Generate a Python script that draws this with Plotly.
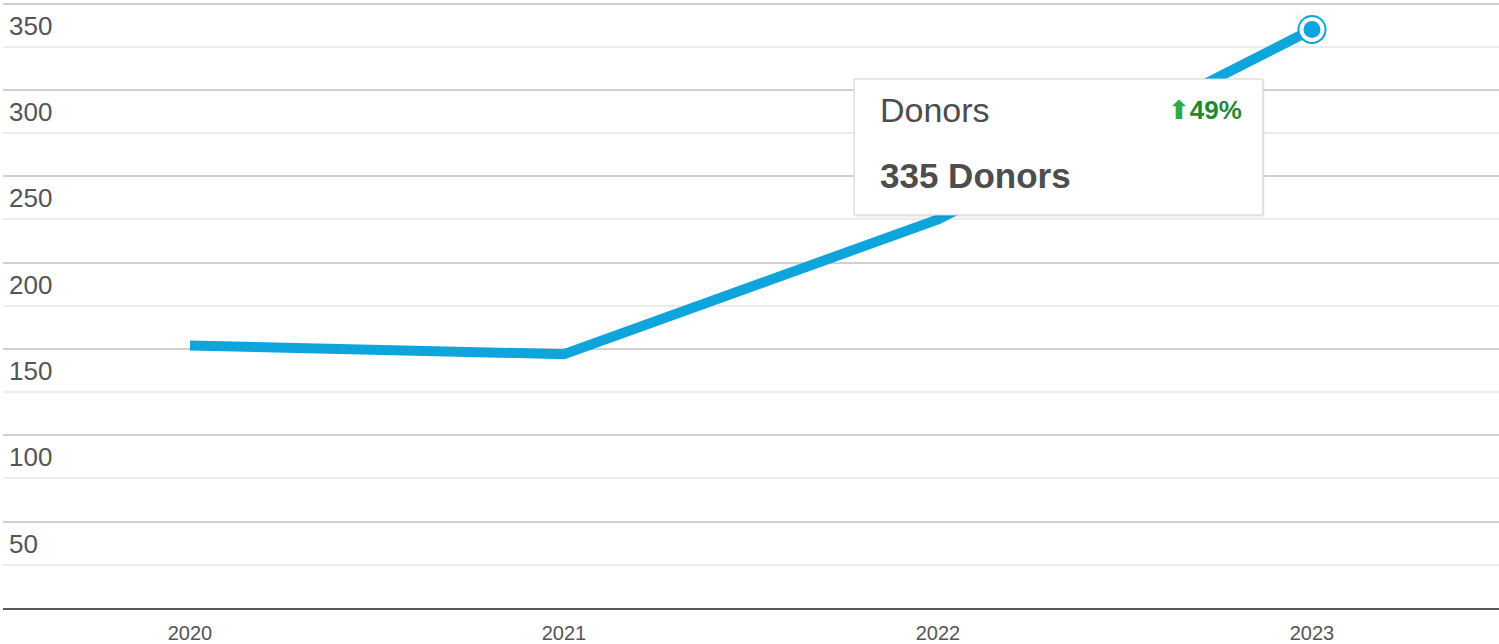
import plotly.graph_objects as go

years = ["2020", "2021", "2022", "2023"]
donors = [152, 147, 225, 335]
y_ticks = [50, 100, 150, 200, 250, 300, 350]
y_minor = [25, 75, 125, 175, 225, 275, 325]
tip_title = "Donors"
tip_change = "49%"
tip_value = "335 Donors"

BLUE = "#0ea5dc"
FONT = "Liberation Sans, Arial, sans-serif"

fig = go.Figure()
fig.add_trace(go.Scatter(x=years, y=donors, mode="lines",
                         line=dict(color=BLUE, width=10), hoverinfo="skip"))
# highlighted last point
fig.add_trace(go.Scatter(x=[years[-1]], y=[donors[-1]], mode="markers",
                         marker=dict(size=27, color="white", line=dict(color=BLUE, width=2)),
                         hoverinfo="skip"))
fig.add_trace(go.Scatter(x=[years[-1]], y=[donors[-1]], mode="markers",
                         marker=dict(size=17, color=BLUE, line=dict(width=0)),
                         hoverinfo="skip"))

fig.update_layout(
    width=1499, height=644,
    margin=dict(l=3, r=0, t=2, b=36),
    paper_bgcolor="white", plot_bgcolor="white",
    showlegend=False,
    font=dict(family=FONT, color="#555555"),
    xaxis=dict(type="category", range=[-0.5, 3.5], showgrid=False,
               showline=True, linecolor="#5a5a5a", linewidth=2,
               ticks="", tickfont=dict(size=20, color="#555555"),
               ticklabelstandoff=6, zeroline=False, fixedrange=True),
    yaxis=dict(range=[0, 350.9], tickvals=y_ticks, ticktext=[str(v) for v in y_ticks],
               showgrid=True, gridcolor="#d0d0d0", gridwidth=2,
               minor=dict(tickvals=y_minor, showgrid=True, gridcolor="#ececec", gridwidth=2),
               ticklabelposition="inside", ticklabelshift=22, ticklabelstandoff=3,
               ticklabeloverflow="allow",
               tickfont=dict(size=26, color="#555555"),
               zeroline=False, showline=False, ticks="", fixedrange=True),
)

# tooltip box (shadow + box)
x0, x1, y0, y1 = 0.5689, 0.8422, 0.6485, 0.873
fig.add_shape(type="rect", xref="paper", yref="paper", x0=x0 + 0.001, x1=x1 + 0.001,
              y0=y0 - 0.004, y1=y1 - 0.004, fillcolor="rgba(0,0,0,0.06)",
              line=dict(width=0), layer="above")
fig.add_shape(type="rect", xref="paper", yref="paper", x0=x0, x1=x1, y0=y0, y1=y1,
              fillcolor="white", line=dict(color="#cfcfcf", width=1), layer="above")

fig.add_annotation(xref="paper", yref="paper", x=0.5852, y=0.8218, xanchor="left",
                   yanchor="middle", text=tip_title, showarrow=False,
                   font=dict(family=FONT, size=34, color="#4d4d4d"))
fig.add_annotation(xref="paper", yref="paper", x=0.8295, y=0.8218, xanchor="right",
                   yanchor="middle", showarrow=False,
                   text="<b><span style='color:#2eaa4a;font-family:DejaVu Sans'>⬆</span>"
                        + tip_change + "</b>",
                   font=dict(family=FONT, size=26, color="#1e8c2e"))
fig.add_annotation(xref="paper", yref="paper", x=0.5852, y=0.7129, xanchor="left",
                   yanchor="middle", text="<b>" + tip_value + "</b>", showarrow=False,
                   font=dict(family=FONT, size=35, color="#4d4d4d"))

fig.write_html("out.html", config={"displayModeBar": False},
               post_script="document.body.style.margin='0';")
